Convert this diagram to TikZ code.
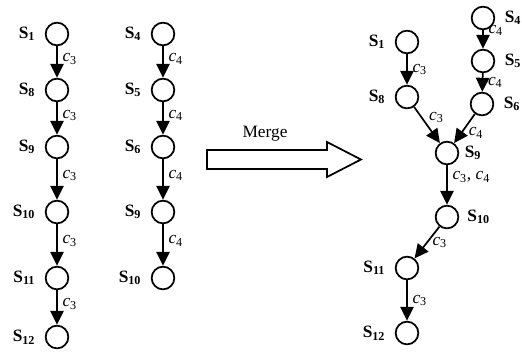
\documentclass[tikz,border=0pt]{standalone}
\usepackage{fontspec}
\setmainfont{Liberation Serif}
\usetikzlibrary{arrows.meta}
\newcommand\st[1]{\textbf{S}\textsubscript{\bfseries #1}}
\newcommand\cc[1]{\textit{c}\textsubscript{#1}}

\begin{document}
\begin{tikzpicture}[x=0.75pt,y=-0.75pt,
  stnode/.style={draw,circle,line width=1.3pt,minimum size=17pt,inner sep=0pt},
  flow/.style={line width=1.3pt,-{Triangle[length=10.5pt,width=10pt]}},
  lbl/.style={font=\fontsize{13}{15}\selectfont,inner sep=2pt},
  elbl/.style={lbl,inner sep=3.5pt},
  sl/.style={label={[lbl,label distance=5pt]left:\st{#1}}},
  sr/.style={label={[lbl,label distance=5pt]right:\st{#1}}}]
\useasboundingbox (0,0) rectangle (522,358);

% first chain, all c3
\foreach \n/\y in {1/34,8/90,9/147,10/212,11/278,12/337}
  \node[stnode,sl=\n] (a\n) at (57,\y) {};
\foreach \n/\m in {1/8,8/9,9/10,10/11,11/12}
  \draw[flow] (a\n) -- node[elbl,pos=.4,right] {\cc3} (a\m);

% second chain, all c4
\foreach \n/\y in {4/34,5/90,6/147,9/212,10/278}
  \node[stnode,sl=\n] (b\n) at (163,\y) {};
\foreach \n/\m in {4/5,5/6,6/9,9/10}
  \draw[flow] (b\n) -- node[elbl,pos=.4,right] {\cc4} (b\m);

% merge arrow
\draw[line width=1.3pt,line join=miter] (207,150) -- (327,150) -- (327,142) -- (361,159.5)
  -- (327,177) -- (327,169) -- (207,169) -- cycle;
\node[lbl] (merge) at (265,134) {Merge};

% merged graph
\node[stnode,sl=1]  (m1)  at (407,42) {};
\node[stnode,sl=8]  (m8)  at (407,97) {};
\node[stnode,sr=4]  (m4)  at (483,18) {};
\node[stnode,sr=5]  (m5)  at (483,61) {};
\node[stnode,sr=6]  (m6)  at (482,104) {};
\node[stnode,label={[lbl,label distance=2pt]right:\st{9}}] (m9) at (447,153) {};
\node[stnode,label={[lbl,label distance=4pt]right:\st{10}}] (m10) at (447,217) {};
\node[stnode,sl=11] (m11) at (407,268) {};
\node[stnode,sl=12] (m12) at (407,333) {};

\draw[flow] (m1) -- node[elbl,midway,right] {\cc3} (m8);
\draw[flow] (m4) -- node[elbl,pos=0,right] {\cc4} (m5);
\draw[flow] (m5) -- node[elbl,midway,right] {\cc4} (m6);
\draw[flow] (m8) -- node[lbl,midway,above right,inner sep=1pt] {\cc3} (m9);
\draw[flow] (m6) -- node[lbl,pos=.4,below right,inner sep=1pt] {\cc4} (m9);
\draw[flow] (m9) -- node[elbl,pos=.3,right] {\cc3, \cc4} (m10);
\draw[flow] (m10) -- node[elbl,midway,right] {\cc3} (m11);
\draw[flow] (m11) -- node[elbl,midway,right] {\cc3} (m12);
\end{tikzpicture}
\end{document}
